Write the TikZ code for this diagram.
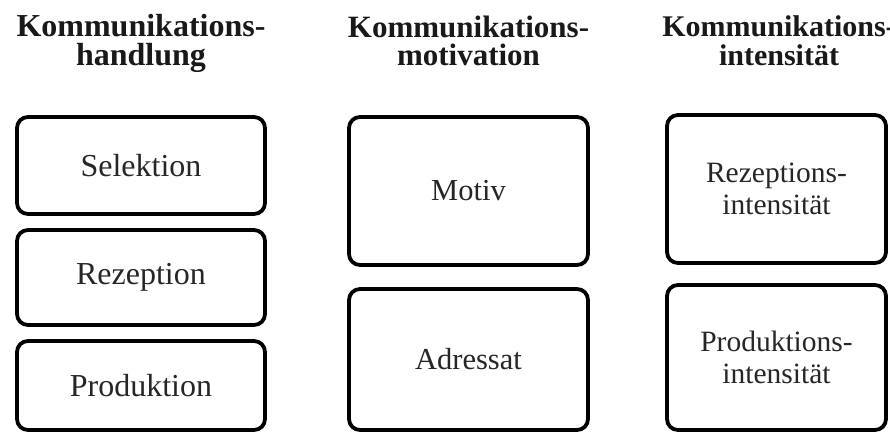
\documentclass[tikz,border=0pt]{standalone}
\usepackage{fontspec}
\setmainfont{Liberation Serif}
\begin{document}
\begin{tikzpicture}[x=1pt,y=-1pt,
  box/.style={draw=black, line width=3.8pt, rounded corners=11pt, align=center,
    inner sep=0pt, text=black!85},
  head/.style={align=center, inner sep=0pt, anchor=north, text=black!90},
  bodyA/.style={font=\fontsize{32}{32}\selectfont},
  bodyB/.style={font=\fontsize{30.5}{32}\selectfont},
  bodyC/.style={font=\fontsize{29.5}{32}\selectfont}]
\useasboundingbox (0,0) rectangle (890,435);
% headers
\node[head, font=\fontsize{32}{28.5}\selectfont\bfseries] (h1) at (141,14.6) {Kommunikations-\\handlung};
\node[head, font=\fontsize{31}{28.5}\selectfont\bfseries] (h2) at (468.5,15.5) {Kommunikations-\\motivation};
\node[head, font=\fontsize{30}{28.5}\selectfont\bfseries] (h3) at (779,15.5) {Kommunikations-\\intensität};
% column 1
\node[box, bodyA, minimum width=248pt, minimum height=97pt] (sel) at (141,165.5) {Selektion};
\node[box, bodyA, minimum width=248pt, minimum height=95pt] (rez) at (141,277.5) {Rezeption};
\node[box, bodyA, minimum width=248pt, minimum height=89pt] (prod) at (141,385.5) {Produktion};
% column 2
\node[box, bodyB, minimum width=239pt, minimum height=148pt] (mot) at (468.5,191) {Motiv};
\node[box, bodyB, minimum width=239pt, minimum height=141pt] (adr) at (468.5,359.5) {Adressat};
% column 3
\node[box, bodyC, minimum width=219pt, minimum height=148pt] (rezi) at (776.5,189) {Rezeptions-\\intensität};
\node[box, bodyC, minimum width=219pt, minimum height=145pt] (prodi) at (776.5,357.5) {Produktions-\\intensität};
\end{tikzpicture}
\end{document}
